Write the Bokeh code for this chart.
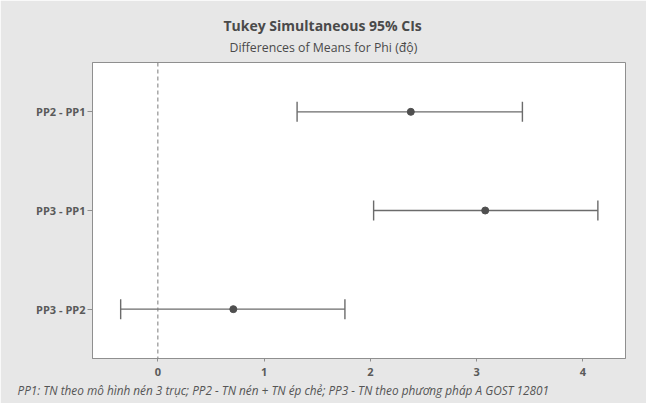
from bokeh.plotting import figure
from bokeh.models import (ColumnDataSource, FactorRange, Range1d, Span, Whisker,
                          TeeHead, Title, FixedTicker)
from bokeh.embed import file_html
from bokeh.resources import INLINE

# ---- data ----
comparisons = ["PP2 - PP1", "PP3 - PP1", "PP3 - PP2"]
centers = [2.38, 3.08, 0.71]
lower = [1.31, 2.03, -0.35]
upper = [3.43, 4.14, 1.76]
x_ticks = [0, 1, 2, 3, 4]

title_text = "Tukey Simultaneous 95% CIs"
subtitle_text = "Differences of Means for Phi (độ)"
footnote_text = ("PP1: TN theo mô hình nén 3 trục; PP2 - TN nén + TN ép chẻ; "
                 "PP3 - TN theo phương pháp A GOST 12801")

FONT = "Open Sans"
GRAY = "#6b6b6b"
TXT = "#4a4a4a"

src = ColumnDataSource(dict(comp=comparisons, center=centers, lower=lower, upper=upper))

p = figure(width=646, height=403, output_backend="svg", toolbar_location=None,
           y_range=FactorRange(factors=list(reversed(comparisons))),
           x_range=Range1d(-0.615, 4.40),
           min_border_left=92, min_border_right=21, min_border_top=62,
           min_border_bottom=45)

p.background_fill_color = "white"
p.border_fill_color = "#e7e7e7"
p.outline_line_color = "#8f8f8f"
p.outline_line_width = 1
p.xgrid.visible = False
p.ygrid.visible = False

# titles (subtitle added first -> closest to frame)
sub = Title(text=subtitle_text, align="left", offset=137, text_font=FONT,
            text_font_size="12.3px", text_font_style="normal", text_color=TXT,
            standoff=14)
p.add_layout(sub, "above")
main = Title(text=title_text, align="left", offset=131, text_font=FONT,
             text_font_size="14px", text_font_style="bold", text_color=TXT,
             standoff=-10)
p.add_layout(main, "above")

foot = Title(text=footnote_text, align="left", offset=-75, text_font=FONT,
             text_font_size="11.8px", text_font_style="italic", text_color="#555555",
             standoff=2)
p.add_layout(foot, "below")

# zero reference line
p.add_layout(Span(location=0, dimension="height", line_color="#7a7a7a",
                  line_dash="4 3", line_width=1))

# intervals
wh = Whisker(source=src, base="comp", lower="lower", upper="upper",
             dimension="width", line_color=GRAY, line_width=1.4,
             lower_head=TeeHead(size=20, line_color=GRAY, line_width=1.4),
             upper_head=TeeHead(size=20, line_color=GRAY, line_width=1.4))
p.add_layout(wh)
p.scatter(x="center", y="comp", source=src, size=7, color="#4f4f4f")

# axes
p.xaxis.ticker = FixedTicker(ticks=x_ticks)
p.xaxis.minor_tick_line_color = None
p.xaxis.major_tick_out = 3
p.xaxis.major_tick_in = 0
p.xaxis.axis_line_color = "#8f8f8f"
p.xaxis.major_tick_line_color = "#8f8f8f"
p.xaxis.major_label_text_font = FONT
p.xaxis.major_label_text_font_size = "11px"
p.xaxis.major_label_text_font_style = "bold"
p.xaxis.major_label_text_color = "#5a5a5a"
p.xaxis.major_label_standoff = 6

p.yaxis.major_tick_out = 5
p.yaxis.major_tick_in = 0
p.yaxis.axis_line_color = "#8f8f8f"
p.yaxis.major_tick_line_color = "#8f8f8f"
p.yaxis.major_label_text_font = FONT
p.yaxis.major_label_text_font_size = "11px"
p.yaxis.major_label_text_font_style = "bold"
p.yaxis.major_label_text_color = "#5a5a5a"
p.yaxis.major_label_standoff = 2

open("out.html", "w").write(file_html(p, INLINE))
